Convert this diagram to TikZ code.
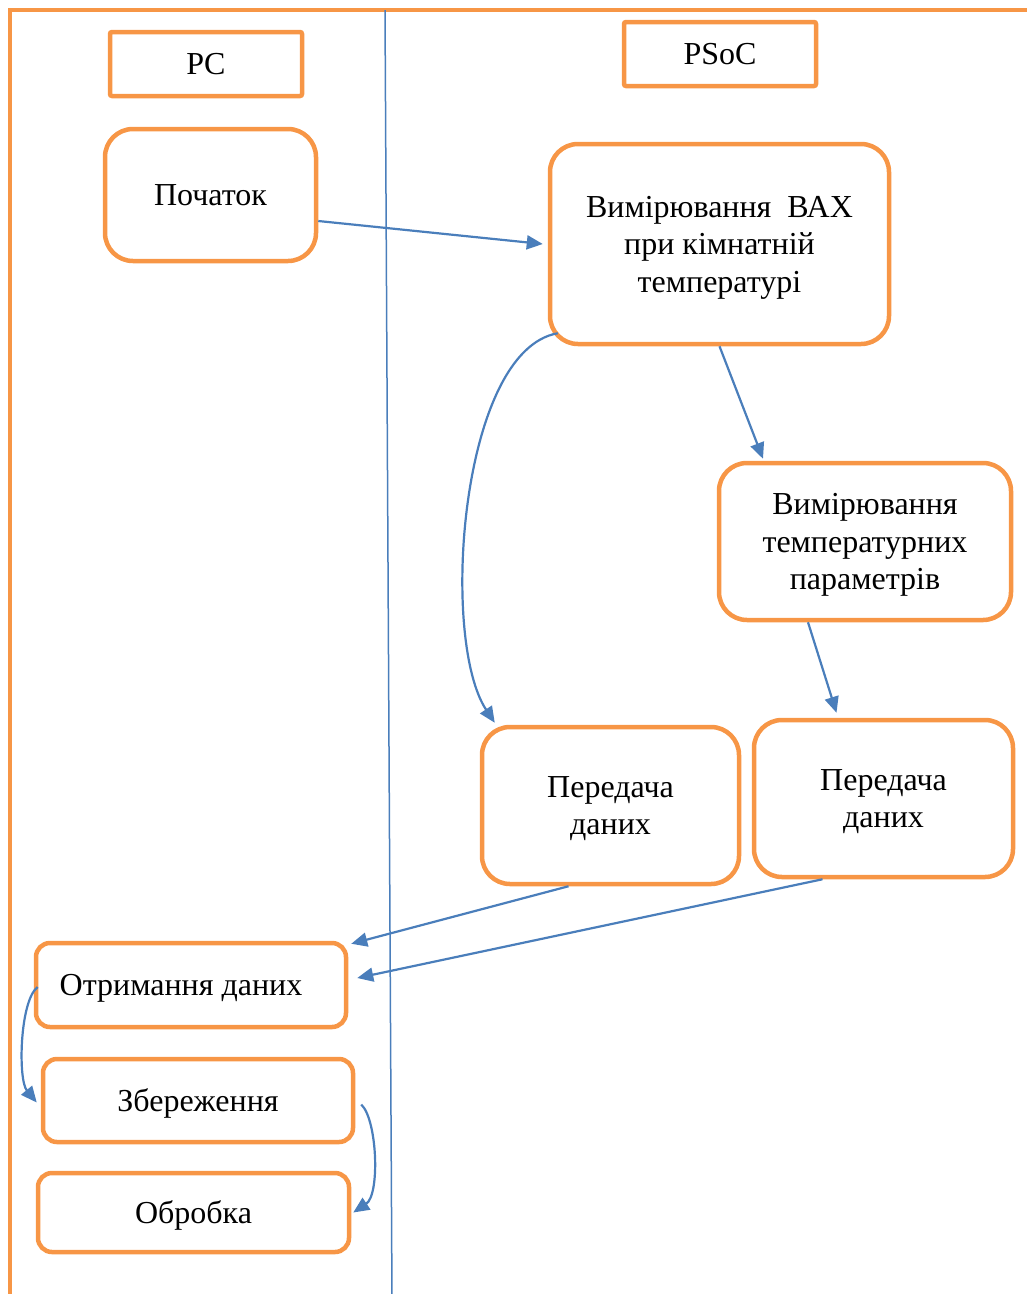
\documentclass[tikz,border=0pt]{standalone}
\usepackage{fontspec}
\setmainfont{Liberation Serif}
\usetikzlibrary{arrows.meta}
\definecolor{boxorange}{HTML}{F79646}
\definecolor{lineblue}{HTML}{4A7EBB}
\begin{document}
\begin{tikzpicture}[x=1pt,y=-1pt,
  lane/.style={draw=boxorange,line width=4.5pt},
  tag/.style={draw=boxorange,line width=4.5pt,rounded corners=2pt,inner sep=0pt,minimum width=192pt,minimum height=64pt},
  stepbig/.style={draw=boxorange,line width=4.5pt,rounded corners=28pt,inner sep=0pt,align=center,text depth=0pt},
  stepsmall/.style={draw=boxorange,line width=4.5pt,rounded corners=14pt,inner sep=0pt,align=center,text depth=0pt},
  flow/.style={draw=lineblue,line width=2.2pt,-{Triangle[length=16pt,width=14pt]}},
  font=\fontsize{32}{37.5}\selectfont]
\useasboundingbox (0,0) rectangle (1027,1294);
\draw[lane] (1030,10) -- (10,10) -- (10,1300);
\draw[lineblue,line width=1.5pt] (385,10) -- (392,1300);
\node[tag] (pc) at (206,64) {PC};
\node[tag] (psoc) at (720,54) {PSoC};
\node[stepbig,minimum width=211pt,minimum height=132pt] (start) at (210.5,195) {Початок};
\node[stepbig,minimum width=339pt,minimum height=200pt] (vax) at (719.5,244) {Вимірювання \ ВАХ\\при кімнатній\\температурі};
\node[stepbig,minimum width=292pt,minimum height=157pt] (temp) at (865,541.5) {Вимірювання\\температурних\\параметрів};
\node[stepbig,minimum width=257pt,minimum height=157pt] (pdl) at (610.5,805.5) {Передача\\даних};
\node[stepbig,minimum width=259pt,minimum height=157pt] (pdr) at (883.5,798.5) {Передача\\даних};
\node[stepsmall,minimum width=310pt,minimum height=84pt] (otr) at (191,985) {Отримання даних\hspace*{20pt}};
\node[stepsmall,minimum width=310pt,minimum height=83pt] (zb) at (198,1100.5) {Збереження};
\node[stepsmall,minimum width=311pt,minimum height=79pt] (obr) at (193.5,1212.5) {Обробка};
\draw[flow] ([yshift=-26pt]start.east) -- ([xshift=-5pt]vax.west);
\draw[flow] (vax.south) -- ([xshift=-102pt,yshift=2pt]temp.north);
\draw[flow] ([shift={(10,-13)}]vax.south west) .. controls +(-98,17) and +(-55,-83) .. ([shift={(15,-2)}]pdl.north west);
\draw[flow] ([xshift=-57pt]temp.south) -- ([xshift=-47pt,yshift=5pt]pdr.north);
\draw[flow] ([xshift=-42pt]pdl.south) -- ([shift={(3,3)}]otr.north east);
\draw[flow] ([xshift=-61pt]pdr.south) -- ([shift={(9,-7)}]otr.east);
\draw[flow] ([shift={(4,2)}]otr.west) .. controls +(-18,13) and +(-19,-23) .. ([shift={(-4,2)}]zb.west);
\draw[flow] ([shift={(6,4)}]zb.east) .. controls +(16,15) and +(27,-18) .. ([xshift=2pt]obr.east);
\end{tikzpicture}
\end{document}
